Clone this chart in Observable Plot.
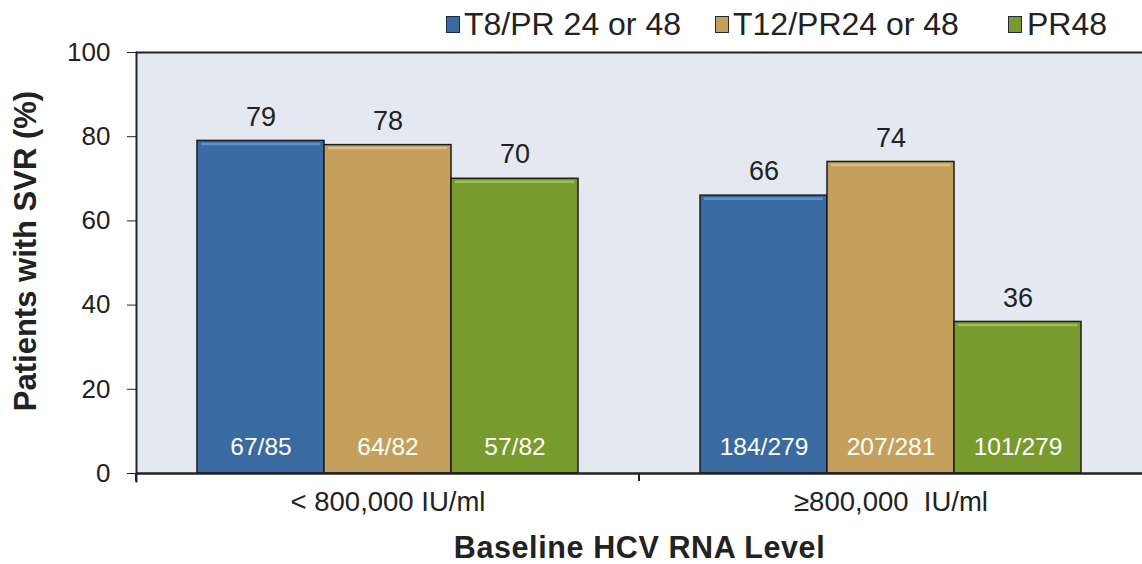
<!DOCTYPE html>
<html>
<head>
<meta charset="utf-8">
<script src="https://cdn.jsdelivr.net/npm/d3@7"></script>
<script src="https://cdn.jsdelivr.net/npm/@observablehq/plot@0.6"></script>
<style>
  html, body { margin: 0; padding: 0; background: white; }
  body { width: 1142px; height: 564px; overflow: hidden; font-family: "Liberation Sans", Arial, sans-serif; }
  #legend { position: relative; width: 1142px; height: 44px; }
  .sw { position: absolute; top: 16px; width: 14px; height: 17px; border: 1px solid #1e2a3a; box-sizing: border-box; }
  .lt { position: absolute; top: 8px; font-size: 32px; line-height: 32px; color: #222; white-space: pre; }
  g[aria-label="y-axis label"] text { font-weight: bold; font-size: 31px; }
  g[aria-label="fx-axis label"] text { font-weight: bold; font-size: 30.5px; letter-spacing: 0.6px; }
  g[aria-label="fx-axis tick label"] text { white-space: pre; }
</style>
</head>
<body>
<div id="legend"></div>
<div id="chart"></div>
<script>
const groups = ["< 800,000 IU/ml", "≥800,000  IU/ml"];
const series = ["T8/PR 24 or 48", "T12/PR24 or 48", "PR48"];
const colors = ["#3a6aa2", "#c4a05c", "#789a2e"];
const highlights = ["#5f92cc", "#dcbd82", "#9cc24c"];
const svrLow = [79, 78, 70];
const svrHigh = [66, 74, 36];
const countsLow = ["67/85", "64/82", "57/82"];
const countsHigh = ["184/279", "207/281", "101/279"];
const yTicks = [0, 20, 40, 60, 80, 100];

const data = [];
series.forEach((s, i) => {
  data.push({group: groups[0], series: s, value: svrLow[i], count: countsLow[i], hi: highlights[i]});
  data.push({group: groups[1], series: s, value: svrHigh[i], count: countsHigh[i], hi: highlights[i]});
});

// Legend (HTML, above the SVG)
const legendPos = [[446, 464], [715, 733], [1008, 1027]];
const legend = document.getElementById("legend");
series.forEach((s, i) => {
  const sw = document.createElement("div");
  sw.className = "sw";
  sw.style.left = legendPos[i][0] + "px";
  sw.style.background = colors[i];
  legend.appendChild(sw);
  const t = document.createElement("div");
  t.className = "lt";
  t.style.left = legendPos[i][1] + "px";
  t.textContent = s;
  legend.appendChild(t);
});

// short tick below the x axis at the left edge of each facet
function boundaryTicks(index, scales, values, dims) {
  const g = d3.create("svg:g");
  const y0 = scales.y(0);
  g.append("line")
    .attr("x1", dims.marginLeft).attr("x2", dims.marginLeft)
    .attr("y1", y0).attr("y2", y0 + 8)
    .attr("stroke", "#222").attr("stroke-width", 2);
  return g.node();
}

const chart = Plot.plot({
  width: 1142,
  height: 520,
  marginTop: 8,
  marginBottom: 91,
  marginLeft: 135,
  marginRight: 0,
  style: {fontFamily: "Liberation Sans, Arial, sans-serif", background: "white", color: "#222", overflow: "visible"},
  fx: {domain: groups, paddingInner: 0, paddingOuter: 0},
  x: {domain: series, paddingInner: 0, paddingOuter: 0.48, axis: null},
  y: {domain: [0, 100]},
  color: {domain: series, range: colors},
  marks: [
    Plot.frame({fill: "#e4e8f0", stroke: null, insetRight: -1}),
    Plot.ruleY([100], {stroke: "#222", strokeWidth: 2}),
    Plot.barY(data, {fx: "group", x: "series", y: "value", fill: "series", stroke: "#1c1c1c", strokeWidth: 1.5}),
    Plot.tickY(data, {fx: "group", x: "series", y: "value", stroke: d => d.hi, strokeWidth: 2.5, dy: 3, insetLeft: 4, insetRight: 4}),
    Plot.text(data, {fx: "group", x: "series", y: "value", text: d => String(d.value), dy: -24, fontSize: 27, fill: "#222"}),
    Plot.text(data, {fx: "group", x: "series", y: () => 0, text: "count", dy: -26, fontSize: 24.5, fill: "white"}),
    Plot.ruleY([0], {stroke: "#222", strokeWidth: 2.5}),
    boundaryTicks,
    Plot.frame({anchor: "left", facetAnchor: "left", stroke: "#222", strokeWidth: 2, insetBottom: -8}),
    Plot.axisY({ticks: yTicks, tickSize: 9, tickPadding: 17, fontSize: 26, stroke: "#222",
                label: "Patients with SVR (%)", labelAnchor: "center", labelArrow: "none", labelOffset: 123}),
    Plot.axisFx({anchor: "bottom", tickSize: 0, tickPadding: 18, fontSize: 27.5,
                 label: "Baseline HCV RNA Level", labelAnchor: "center", labelArrow: "none", labelOffset: 84})
  ]
});
// nudge the y-axis title up a little, keeping Plot's own transform
const yLab = chart.querySelector('g[aria-label="y-axis label"]');
if (yLab) {
  const tr = yLab.getAttribute("transform") || "";
  yLab.setAttribute("transform", (tr + " translate(0,-12)").trim());
}
document.getElementById("chart").appendChild(chart);
</script>
</body>
</html>
